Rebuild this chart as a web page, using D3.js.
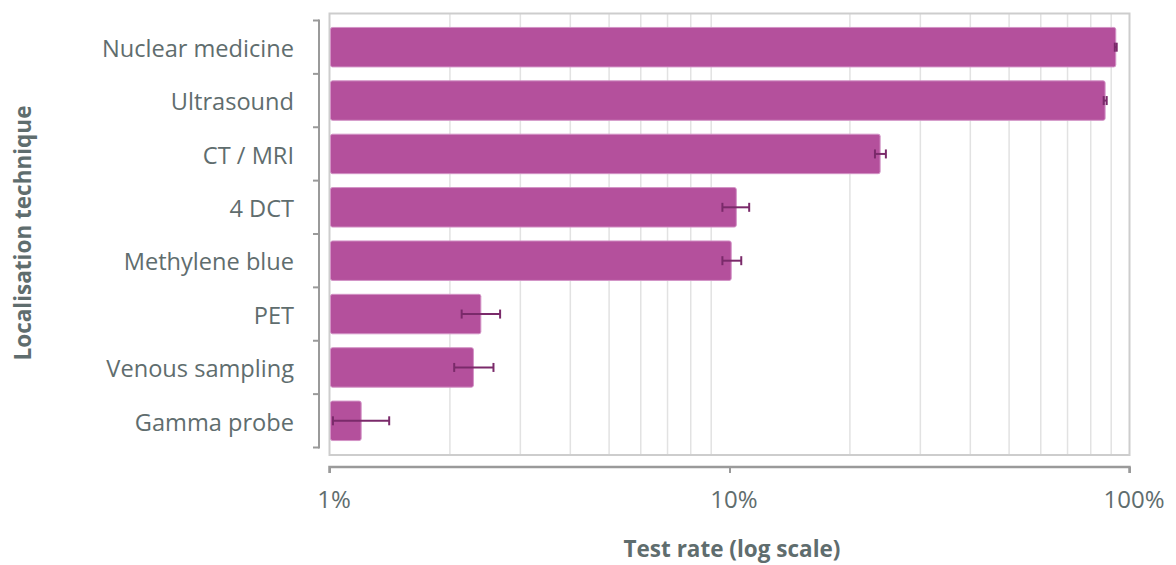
<!DOCTYPE html>
<html>
<head>
<meta charset="utf-8">
<script src="https://cdn.jsdelivr.net/npm/d3@7"></script>
<style>
  html, body { margin: 0; padding: 0; background: #fff; }
  svg { display: block; font-family: "Open Sans", "Noto Sans", sans-serif; }
</style>
</head>
<body>
<svg id="chart" width="1176" height="565"></svg>
<script>
// Localisation techniques and their test rates (%) with confidence limits
const techniques = ["Nuclear medicine", "Ultrasound", "CT / MRI", "4 DCT", "Methylene blue", "PET", "Venous sampling", "Gamma probe"];
const rates = [92.4, 86.9, 23.8, 10.4, 10.1, 2.39, 2.29, 1.20];
const lower = [91.9, 86.2, 23.1, 9.6, 9.6, 2.14, 2.05, 1.02];
const upper = [92.9, 87.7, 24.6, 11.2, 10.7, 2.67, 2.57, 1.41];
const tickValues = [1, 10, 100];
const tickLabels = ["1%", "10%", "100%"];

const svg = d3.select("#chart");
const textColor = "#5f6d6e";
const axisColor = "#9a9a9a";

const x = d3.scaleLog().domain([1, 100]).range([329.5, 1129.5]);
const y = d3.scaleBand().domain(techniques).range([20.5, 447.5]).paddingInner(0.26).paddingOuter(0.13);

const plotTop = 13.5, plotBottom = 455;

// Minor and major vertical gridlines
const gridVals = [];
for (let d = 1; d < 100; d *= 10) for (let k = 2; k <= 9; k++) gridVals.push(d * k);
svg.append("g").selectAll("line").data(gridVals).join("line")
  .attr("x1", d => x(d)).attr("x2", d => x(d))
  .attr("y1", plotTop).attr("y2", plotBottom)
  .attr("stroke", d => d === 10 ? "#c4c4c4" : "#e2e2e2")
  .attr("stroke-width", 1.5);

// Plot frame
svg.append("rect")
  .attr("x", x(1)).attr("y", plotTop)
  .attr("width", x(100) - x(1)).attr("height", plotBottom - plotTop)
  .attr("fill", "none").attr("stroke", "#cdcdcd").attr("stroke-width", 2);

// Bars
svg.append("g").selectAll("rect").data(techniques).join("rect")
  .attr("x", x(1) + 1)
  .attr("y", d => y(d))
  .attr("width", (d, i) => x(rates[i]) - x(1) - 1)
  .attr("height", y.bandwidth())
  .attr("rx", 2)
  .attr("fill", "#b4509c")
  .attr("stroke", "#d393c6")
  .attr("stroke-width", 1);

// Error bars
const eb = svg.append("g").attr("stroke", "#7a2a6a").attr("stroke-width", 2);
techniques.forEach((t, i) => {
  const cy = y(t) + y.bandwidth() / 2;
  eb.append("line").attr("x1", x(lower[i])).attr("x2", x(upper[i])).attr("y1", cy).attr("y2", cy);
  [lower[i], upper[i]].forEach(v => {
    eb.append("line").attr("x1", x(v)).attr("x2", x(v)).attr("y1", cy - 4.5).attr("y2", cy + 4.5);
  });
});

// Y axis bracket with category boundaries
const yAxisX = 319;
const boundaries = techniques.map(t => y(t) - y.step() * y.paddingInner() / 2);
boundaries.push(y.range()[1]);
boundaries[0] = y.range()[0];
const ya = svg.append("g").attr("stroke", axisColor).attr("stroke-width", 2).attr("fill", "none");
ya.append("line").attr("x1", yAxisX).attr("x2", yAxisX).attr("y1", boundaries[0] - 1).attr("y2", boundaries[boundaries.length - 1] + 1);
ya.selectAll("line.tk").data(boundaries).join("line").attr("class", "tk")
  .attr("x1", yAxisX - 6).attr("x2", yAxisX).attr("y1", d => d).attr("y2", d => d);

// Category labels
svg.append("g").selectAll("text").data(techniques).join("text")
  .attr("x", 294)
  .attr("y", d => y(d) + y.bandwidth() / 2 + 1.5)
  .attr("dy", "0.35em")
  .attr("text-anchor", "end")
  .attr("font-size", 23.6)
  .attr("fill", textColor)
  .text(d => d);

// X axis
const xAxis = d3.axisBottom(x).tickValues(tickValues).tickFormat((d, i) => tickLabels[i]).tickSize(6).tickSizeOuter(0);
const xg = svg.append("g").attr("transform", "translate(0,467)").call(xAxis);
xg.select(".domain").attr("stroke", axisColor).attr("stroke-width", 2.5).attr("d", `M${x(1)},6V0H${x(100)}V6`);
xg.selectAll(".tick line").attr("stroke", axisColor).attr("stroke-width", 2);
xg.selectAll(".tick text")
  .attr("y", 24).attr("dy", "0.71em")
  .attr("dx", 4)
  .attr("font-size", 24)
  .attr("font-family", "'Open Sans', 'Noto Sans', sans-serif")
  .attr("fill", textColor);

// Axis titles
svg.append("text")
  .attr("x", 732).attr("y", 557)
  .attr("text-anchor", "middle")
  .attr("font-size", 22.5).attr("font-weight", "bold")
  .attr("fill", textColor)
  .text("Test rate (log scale)");

svg.append("text")
  .attr("transform", "translate(31,233) rotate(-90)")
  .attr("text-anchor", "middle")
  .attr("font-size", 22.5).attr("font-weight", "bold")
  .attr("fill", textColor)
  .text("Localisation technique");
</script>
</body>
</html>
